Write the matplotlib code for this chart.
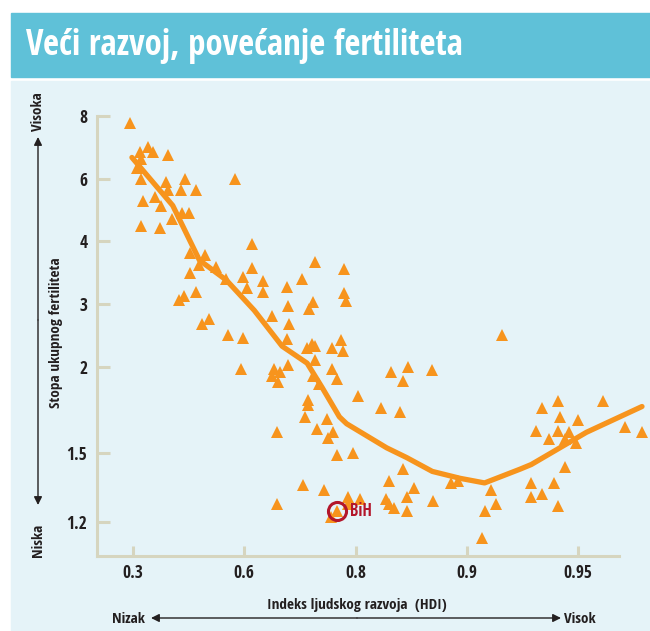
import numpy as np
import matplotlib
matplotlib.use('Agg')
import matplotlib.pyplot as plt
from matplotlib import font_manager
from matplotlib.patches import Rectangle, FancyArrowPatch

# HDI (x) and total fertility rate (y) per country
hdi = [0.297, 0.319, 0.340, 0.354, 0.394, 0.321, 0.311, 0.321, 0.388, 0.439,
       0.576, 0.394, 0.429, 0.469, 0.359, 0.327, 0.375, 0.431, 0.450, 0.404,
       0.321, 0.372, 0.614, 0.453, 0.493, 0.477, 0.525, 0.614, 0.728, 0.780,
       0.453, 0.552, 0.597, 0.634, 0.704, 0.604, 0.634, 0.676, 0.469, 0.437,
       0.423, 0.780, 0.782, 0.724, 0.717, 0.679, 0.649, 0.506, 0.485, 0.681,
       0.555, 0.597, 0.676, 0.721, 0.712, 0.728, 0.773, 0.758, 0.778, 0.728,
       0.679, 0.757, 0.592, 0.654, 0.665, 0.650, 0.661, 0.724, 0.767, 0.735,
       0.832, 0.847, 0.843, 0.869, 0.802, 0.715, 0.715, 0.823, 0.840, 0.710,
       0.748, 0.730, 0.760, 0.751, 0.659, 0.767, 0.795, 0.843, 0.830, 0.706,
       0.744, 0.853, 0.886, 0.892, 0.787, 0.804, 0.787, 0.827, 0.846, 0.830,
       0.835, 0.846, 0.870, 0.659, 0.766, 0.755, 0.911, 0.913, 0.908, 0.907,
       0.916, 0.934, 0.941, 0.959, 0.942, 0.950, 0.931, 0.941, 0.946, 0.937,
       0.944, 0.949, 0.967, 0.973, 0.944, 0.929, 0.939, 0.929, 0.934, 0.941]
fertility = [7.77, 6.83, 7.00, 6.83, 6.74, 6.61, 6.35, 5.97, 5.90, 5.97,
             5.97, 5.62, 5.62, 5.62, 5.40, 5.27, 5.11, 4.89, 4.89, 4.70,
             4.48, 4.44, 3.95, 3.81, 3.79, 3.62, 3.59, 3.57, 3.67, 3.56,
             3.49, 3.40, 3.43, 3.37, 3.40, 3.25, 3.19, 3.27, 3.19, 3.13,
             3.06, 3.17, 3.05, 3.03, 2.92, 2.97, 2.81, 2.76, 2.68, 2.68,
             2.51, 2.46, 2.44, 2.37, 2.30, 2.33, 2.43, 2.30, 2.25, 2.11,
             2.03, 1.99, 1.99, 1.99, 1.97, 1.95, 1.91, 1.95, 1.93, 1.90,
             1.97, 2.00, 1.92, 1.98, 1.83, 1.81, 1.78, 1.76, 1.74, 1.71,
             1.70, 1.64, 1.62, 1.59, 1.62, 1.49, 1.50, 1.43, 1.38, 1.36,
             1.34, 1.35, 1.37, 1.38, 1.31, 1.30, 1.28, 1.30, 1.31, 1.28,
             1.26, 1.25, 1.29, 1.28, 1.25, 1.22, 1.34, 1.28, 1.25, 1.15,
             2.51, 1.76, 1.80, 1.80, 1.71, 1.69, 1.63, 1.63, 1.62, 1.58,
             1.58, 1.56, 1.65, 1.62, 1.44, 1.37, 1.37, 1.31, 1.32, 1.27]

# smoothed trend line
trend_hdi = [0.299, 0.407, 0.479, 0.552, 0.618, 0.668, 0.713, 0.740, 0.771,
             0.784, 0.828, 0.846, 0.869, 0.894, 0.908, 0.924, 0.929, 0.953, 0.973]
trend_fertility = [6.67, 5.14, 3.70, 3.38, 2.90, 2.33, 2.06, 1.88, 1.71,
                   1.67, 1.53, 1.48, 1.42, 1.39, 1.37, 1.43, 1.45, 1.62, 1.77]

bih_hdi = 0.766
bih_fertility = 1.25

x_ticks = [0.3, 0.6, 0.8, 0.9, 0.95]
x_tick_labels = ['0.3', '0.6', '0.8', '0.9', '0.95']
y_ticks = [1.2, 1.5, 2, 3, 4, 6, 8]
y_tick_labels = ['1.2', '1.5', '2', '3', '4', '6', '8']

# the chart uses uneven axes: ticks are equally spaced
HDI_KNOTS = [0.2, 0.3, 0.6, 0.8, 0.9, 0.95, 0.99]
HDI_POS = [-1, 0, 1, 2, 3, 4, 5]
FERT_KNOTS = [1.0, 1.2, 1.5, 2, 3, 4, 6, 8, 10]
FERT_POS = [-7.5, -6.47, -5.37, -4, -3, -2, -1, 0, 1]


def hdi_fwd(v):
    return np.interp(v, HDI_KNOTS, HDI_POS)


def hdi_inv(p):
    return np.interp(p, HDI_POS, HDI_KNOTS)


def fert_fwd(v):
    return np.interp(v, FERT_KNOTS, FERT_POS)


def fert_inv(p):
    return np.interp(p, FERT_POS, FERT_KNOTS)


def pick_font(names):
    for name in names:
        try:
            font_manager.findfont(font_manager.FontProperties(family=name),
                                  fallback_to_default=False)
            return name
        except ValueError:
            continue
    return 'DejaVu Sans'


FONT = pick_font(['Open Sans Condensed', 'Roboto Condensed',
                  'Liberation Sans Narrow', 'Open Sans'])
plt.rcParams['font.family'] = [FONT, 'DejaVu Sans']

W, H = 650, 631
ORANGE = '#f7941d'
DARK = '#231f20'
SPINE = '#d6d5bf'


def fx(px):
    return px / W


def fy(py):
    return 1 - py / H


fig = plt.figure(figsize=(6.5, 6.31), dpi=100, facecolor='white')

# title bar and light panel
fig.add_artist(Rectangle((fx(11), fy(77)), fx(639), 64 / H, color='#5fc1d8',
                         transform=fig.transFigure, zorder=-2))
fig.add_artist(Rectangle((fx(11), 0), fx(639), (H - 81) / H, color='#e5f3f8',
                         transform=fig.transFigure, zorder=-2))
fig.text(fx(26), fy(46), 'Veći razvoj, povećanje fertiliteta', color='white',
         fontsize=25, fontweight='bold', va='center', ha='left')

ax = fig.add_axes([fx(97), fy(556), fx(650 - 97), (556 - 100) / H])
ax.set_facecolor('none')
ax.set_xscale('function', functions=(hdi_fwd, hdi_inv))
ax.set_yscale('function', functions=(fert_fwd, fert_inv))
ax.set_xlim(float(hdi_inv(-0.324)), float(hdi_inv(4.647)))
ax.set_ylim(float(fert_inv(-7.01)), float(fert_inv(0.25)))

ax.plot(hdi, fertility, linestyle='none', marker='^', markersize=8.5,
        color=ORANGE, markeredgewidth=0, clip_on=False, zorder=3)
ax.plot(trend_hdi, trend_fertility, color=ORANGE, linewidth=3.8,
        solid_capstyle='round', solid_joinstyle='round', zorder=4)

# BiH highlight
ax.plot([bih_hdi], [bih_fertility], linestyle='none', marker='o', markersize=13,
        markerfacecolor='none', markeredgecolor='#b3162b', markeredgewidth=2.2,
        zorder=5)
ax.annotate('BiH', (bih_hdi, bih_fertility), xytext=(9.5, -0.5),
            textcoords='offset points', color='#b3162b', fontsize=12,
            fontweight='bold', va='center', ha='left', zorder=5)

for side in ['top', 'right']:
    ax.spines[side].set_visible(False)
for side in ['left', 'bottom']:
    ax.spines[side].set_color(SPINE)
    ax.spines[side].set_linewidth(2.2)
ax.spines['left'].set_bounds(ax.get_ylim()[0], 8)
ax.spines['bottom'].set_bounds(ax.get_xlim()[0], float(hdi_inv(4.37)))

ax.minorticks_off()
ax.set_xticks(x_ticks)
ax.set_xticklabels(x_tick_labels)
ax.set_yticks(y_ticks)
ax.set_yticklabels(y_tick_labels)
ax.tick_params(axis='y', direction='in', length=9.5, width=2.2, color=SPINE,
               pad=7, labelsize=12.5, labelcolor=DARK)
ax.tick_params(axis='x', direction='in', length=7.5, width=2.2, color=SPINE,
               pad=6, labelsize=12.5, labelcolor=DARK)
for lab in ax.get_xticklabels() + ax.get_yticklabels():
    lab.set_fontweight('bold')

# axis captions with arrows
fig.text(fx(56), fy(333), 'Stopa ukupnog fertiliteta', rotation=90,
         ha='center', va='center', fontsize=11, fontweight='bold', color=DARK)
fig.text(fx(38), fy(112), 'Visoka', rotation=90, ha='center', va='center',
         fontsize=11, fontweight='bold', color=DARK)
fig.text(fx(38), fy(540), 'Niska', rotation=90, ha='center', va='center',
         fontsize=11, fontweight='bold', color=DARK)
arrow = dict(arrowstyle='-|>', color=DARK, linewidth=1.0, mutation_scale=12,
             shrinkA=0, shrinkB=0)
fig.add_artist(FancyArrowPatch((fx(38), fy(320)), (fx(38), fy(137)),
                               transform=fig.transFigure, **arrow))
fig.add_artist(FancyArrowPatch((fx(38), fy(320)), (fx(38), fy(505)),
                               transform=fig.transFigure, **arrow))

fig.text(fx(357), fy(605), 'Indeks ljudskog razvoja  (HDI)', ha='center',
         va='center', fontsize=11, fontweight='bold', color=DARK)
fig.text(fx(128), fy(619), 'Nizak', ha='center', va='center', fontsize=11,
         fontweight='bold', color=DARK)
fig.text(fx(580), fy(619), 'Visok', ha='center', va='center', fontsize=11,
         fontweight='bold', color=DARK)
fig.add_artist(FancyArrowPatch((fx(357), fy(618)), (fx(151), fy(618)),
                               transform=fig.transFigure, **arrow))
fig.add_artist(FancyArrowPatch((fx(357), fy(618)), (fx(561), fy(618)),
                               transform=fig.transFigure, **arrow))

fig.savefig('out.png', dpi=100)
